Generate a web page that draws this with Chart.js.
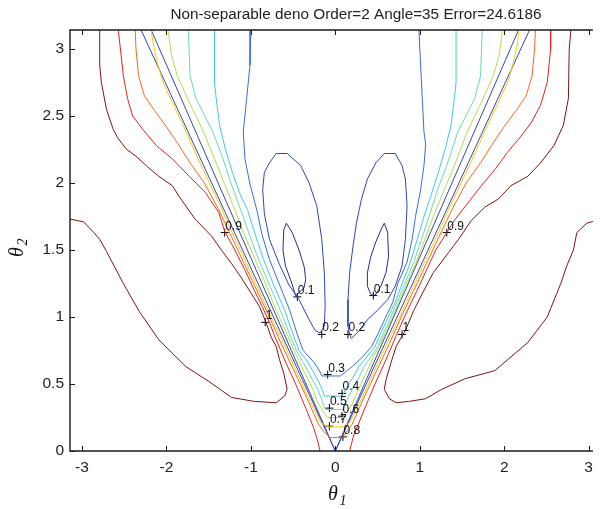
<!DOCTYPE html>
<html>
<head>
<meta charset="utf-8">
<script src="https://cdn.jsdelivr.net/npm/chart.js@4.4.1/dist/chart.umd.min.js"></script>
<style>
  html, body { margin: 0; padding: 0; background: #fff; overflow: hidden; }
</style>
</head>
<body>
<canvas id="contourChart" width="600" height="509"></canvas>
<script>
// title + axis ticks
const chartTitle = 'Non-separable deno Order=2 Angle=35 Error=24.6186';
const xTicks = [-3, -2, -1, 0, 1, 2, 3];
const yTicks = [0, 0.5, 1, 1.5, 2, 2.5, 3];

// contour lines, [theta1, theta2]
const lvl10Left = [[-3.14,1.73],[-2.98,1.71],[-2.86,1.63],[-2.79,1.58],[-2.71,1.49],[-2.51,1.25],[-2.32,1.04],[-2.09,0.83],[-1.77,0.63],[-1.50,0.52],[-1.23,0.40],[-0.96,0.37],[-0.70,0.36],[-0.60,0.41],[-0.57,0.46],[-0.61,0.58],[-0.66,0.68],[-0.70,0.78],[-0.76,0.85],[-0.82,0.96],[-0.90,1.08],[-1.00,1.18],[-1.11,1.29],[-1.23,1.40],[-1.35,1.50],[-1.46,1.60],[-1.66,1.73],[-1.85,1.90],[-1.93,1.98],[-2.09,2.05],[-2.24,2.13],[-2.36,2.20],[-2.47,2.25],[-2.57,2.33],[-2.63,2.40],[-2.71,2.55],[-2.77,2.75],[-2.79,2.88],[-2.79,3.1416]];
const lvl10Right = [[2.79,3.1416],[2.77,3.00],[2.76,2.63],[2.70,2.43],[2.59,2.28],[2.43,2.15],[2.28,2.05],[2.08,1.98],[1.93,1.88],[1.77,1.82],[1.61,1.72],[1.46,1.58],[1.34,1.48],[1.16,1.33],[1.05,1.20],[0.93,1.05],[0.83,0.90],[0.72,0.78],[0.66,0.66],[0.60,0.53],[0.58,0.46],[0.64,0.39],[0.72,0.36],[0.87,0.37],[1.07,0.39],[1.26,0.46],[1.54,0.54],[1.89,0.60],[2.28,0.81],[2.51,1.00],[2.67,1.25],[2.74,1.38],[2.82,1.50],[2.86,1.63],[2.98,1.70],[3.14,1.73]];
const lvl09Left = [[-2.57,3.1416],[-2.55,3.03],[-2.51,2.80],[-2.46,2.63],[-2.40,2.50],[-2.28,2.40],[-2.12,2.28],[-1.93,2.18],[-1.73,2.05],[-1.54,1.93],[-1.38,1.78],[-1.31,1.64],[-1.19,1.50],[-1.07,1.35],[-0.96,1.20],[-0.86,1.07],[-0.78,0.96],[-0.72,0.86],[-0.60,0.68],[-0.47,0.50],[-0.35,0.32],[-0.26,0.18],[-0.22,0.10],[-0.18,0]];
const lvl09Right = [[2.55,3.1416],[2.55,3.00],[2.51,2.75],[2.43,2.58],[2.32,2.45],[2.20,2.35],[2.04,2.23],[1.89,2.10],[1.73,1.98],[1.57,1.85],[1.42,1.73],[1.32,1.63],[1.19,1.50],[1.08,1.35],[0.97,1.20],[0.84,1.03],[0.72,0.86],[0.60,0.68],[0.47,0.50],[0.35,0.32],[0.26,0.18],[0.21,0.10],[0.17,0]];
const lvl08 = [[-2.37,3.1416],[-2.36,3.00],[-2.33,2.80],[-2.26,2.65],[-2.14,2.54],[-2.00,2.42],[-1.85,2.28],[-1.72,2.15],[-1.55,2.00],[-1.38,1.80],[-1.23,1.60],[-1.08,1.40],[-0.93,1.20],[-0.78,1.00],[-0.64,0.80],[-0.49,0.60],[-0.34,0.40],[-0.20,0.20],[-0.13,0.14],[-0.06,0.10],[0.08,0.10],[0.13,0.14],[0.20,0.20],[0.34,0.40],[0.49,0.60],[0.64,0.80],[0.78,1.00],[0.93,1.20],[1.08,1.40],[1.23,1.60],[1.38,1.80],[1.55,2.00],[1.72,2.15],[1.85,2.28],[2.00,2.42],[2.14,2.54],[2.26,2.65],[2.33,2.80],[2.36,3.00],[2.37,3.1416]];
const lvl07 = [[-2.18,3.1416],[-2.16,3.05],[-2.11,2.90],[-2.04,2.75],[-1.93,2.60],[-1.78,2.40],[-1.64,2.20],[-1.49,2.00],[-1.34,1.80],[-1.20,1.60],[-1.05,1.40],[-0.905,1.20],[-0.76,1.00],[-0.61,0.80],[-0.465,0.60],[-0.32,0.40],[-0.17,0.21],[-0.08,0.18],[0.08,0.18],[0.17,0.21],[0.32,0.40],[0.465,0.60],[0.61,0.80],[0.76,1.00],[0.905,1.20],[1.05,1.40],[1.20,1.60],[1.34,1.80],[1.49,2.00],[1.64,2.20],[1.78,2.40],[1.93,2.60],[2.04,2.75],[2.11,2.90],[2.16,3.05],[2.17,3.1416]];
const lvl06 = [[-1.98,3.1416],[-1.94,2.95],[-1.87,2.80],[-1.75,2.63],[-1.56,2.38],[-1.43,2.18],[-1.31,1.99],[-1.19,1.80],[-1.08,1.62],[-0.95,1.43],[-0.82,1.24],[-0.70,1.05],[-0.57,0.87],[-0.49,0.75],[-0.42,0.66],[-0.37,0.59],[-0.31,0.52],[-0.26,0.45],[-0.22,0.38],[-0.16,0.31],[-0.13,0.28],[-0.09,0.25],[0.09,0.25],[0.13,0.28],[0.16,0.31],[0.20,0.35],[0.24,0.41],[0.29,0.48],[0.34,0.55],[0.40,0.63],[0.45,0.70],[0.52,0.78],[0.59,0.88],[0.67,0.99],[0.75,1.11],[0.835,1.23],[0.96,1.41],[1.06,1.58],[1.16,1.75],[1.29,1.95],[1.41,2.13],[1.56,2.38],[1.75,2.63],[1.87,2.80],[1.94,2.95],[1.98,3.1416]];
const lvl05 = [[-1.74,3.1416],[-1.72,2.80],[-1.65,2.63],[-1.45,2.38],[-1.33,2.18],[-1.23,1.99],[-1.12,1.80],[-1.02,1.62],[-0.91,1.43],[-0.78,1.24],[-0.65,1.05],[-0.54,0.87],[-0.46,0.75],[-0.38,0.66],[-0.32,0.59],[-0.26,0.52],[-0.20,0.45],[-0.16,0.38],[-0.12,0.31],[0.10,0.31],[0.12,0.35],[0.16,0.41],[0.22,0.48],[0.28,0.55],[0.34,0.63],[0.42,0.70],[0.50,0.78],[0.57,0.88],[0.65,0.99],[0.73,1.11],[0.81,1.23],[0.93,1.41],[1.02,1.58],[1.11,1.75],[1.21,1.95],[1.32,2.13],[1.45,2.38],[1.65,2.63],[1.72,2.80],[1.74,3.1416]];
const lvl04 = [[-1.43,3.1416],[-1.43,2.75],[-1.41,2.63],[-1.37,2.43],[-1.30,2.25],[-1.22,2.08],[-1.13,1.92],[-1.04,1.80],[-0.95,1.62],[-0.85,1.43],[-0.73,1.24],[-0.60,1.05],[-0.50,0.87],[-0.43,0.75],[-0.32,0.66],[-0.26,0.59],[-0.20,0.52],[-0.15,0.45],[-0.13,0.41],[0.08,0.41],[0.14,0.48],[0.21,0.55],[0.28,0.63],[0.37,0.70],[0.47,0.78],[0.54,0.88],[0.62,0.99],[0.71,1.11],[0.78,1.23],[0.89,1.41],[0.97,1.58],[1.05,1.75],[1.13,1.90],[1.22,2.08],[1.30,2.25],[1.37,2.43],[1.41,2.63],[1.43,2.75],[1.43,3.1416]];
const lvl03 = [[-1.00,3.1416],[-1.01,2.88],[-1.05,2.63],[-1.09,2.38],[-1.07,2.18],[-1.01,1.99],[-0.93,1.80],[-0.87,1.62],[-0.78,1.43],[-0.66,1.24],[-0.54,1.05],[-0.45,0.87],[-0.38,0.75],[-0.25,0.66],[-0.18,0.59],[-0.16,0.56],[0.06,0.56],[0.08,0.57],[0.20,0.63],[0.32,0.70],[0.43,0.78],[0.51,0.88],[0.59,0.99],[0.68,1.11],[0.74,1.25],[0.85,1.41],[0.91,1.58],[0.95,1.75],[1.01,1.95],[1.05,2.13],[1.07,2.29],[1.05,2.38],[1.03,2.63],[1.01,2.88],[0.99,3.1416]];
const lvl02Left = [[-0.18,0.88],[-0.13,0.93],[-0.12,1.08],[-0.13,1.33],[-0.16,1.58],[-0.22,1.83],[-0.31,2.00],[-0.41,2.13],[-0.57,2.22],[-0.70,2.22],[-0.78,2.15],[-0.84,2.08],[-0.86,1.95],[-0.84,1.77],[-0.78,1.58],[-0.66,1.39],[-0.55,1.24],[-0.43,1.13],[-0.31,0.98],[-0.24,0.90],[-0.18,0.88]];
const lvl02Right = [[0.19,0.84],[0.29,0.90],[0.38,0.98],[0.50,1.05],[0.62,1.13],[0.71,1.23],[0.79,1.38],[0.83,1.58],[0.85,1.83],[0.83,2.03],[0.79,2.13],[0.71,2.22],[0.58,2.22],[0.48,2.15],[0.38,2.03],[0.31,1.88],[0.25,1.70],[0.21,1.53],[0.17,1.33],[0.15,1.13],[0.15,0.93],[0.17,0.87],[0.19,0.84]];
const lvl01Left = [[-0.58,1.70],[-0.51,1.63],[-0.43,1.50],[-0.37,1.38],[-0.35,1.28],[-0.37,1.22],[-0.43,1.18],[-0.47,1.16],[-0.53,1.28],[-0.59,1.38],[-0.62,1.50],[-0.61,1.65],[-0.58,1.70]];
const lvl01Right = [[0.58,1.70],[0.62,1.63],[0.63,1.45],[0.60,1.33],[0.54,1.23],[0.48,1.17],[0.45,1.16],[0.42,1.17],[0.38,1.23],[0.38,1.33],[0.42,1.45],[0.48,1.56],[0.54,1.65],[0.58,1.70]];
// the two blue lines of the V (where the denominator vanishes)
const vOuterLeft = [[0,0],[-2.30,3.1416]];
const vInnerLeft = [[0,0],[-2.18,3.1416]];
const vOuterRight = [[0,0],[2.30,3.1416]];
const vInnerRight = [[0,0],[2.17,3.1416]];

// clabel marks
const labelText = ['0.9', '0.9', '0.1', '0.1', '0.2', '0.2', '1', '1', '0.3', '0.4', '0.5', '0.6', '0.7', '0.8'];
const labelX = [-1.31, 1.32, -0.45, 0.45, -0.16, 0.15, -0.83, 0.79, -0.09, 0.08, -0.07, 0.08, -0.07, 0.09];
const labelY = [1.63, 1.63, 1.15, 1.16, 0.87, 0.87, 0.96, 0.87, 0.57, 0.43, 0.32, 0.26, 0.185, 0.105];

// jet colours per level
const levelColors = {
    'V':   '#3447b2',
    '0.1': '#2a2a92',
    '0.2': '#2c44c2',
    '0.3': '#3c6cd8',
    '0.4': '#3cc8e8',
    '0.5': '#66dab4',
    '0.6': '#b2dc4e',
    '0.7': '#f4cd0c',
    '0.8': '#f26a22',
    '0.9': '#e2231e',
    '1':   '#7e1414'
};

const contourPieces = [
    ['1', lvl10Left], ['1', lvl10Right],
    ['0.9', lvl09Left], ['0.9', lvl09Right],
    ['0.8', lvl08], ['0.7', lvl07], ['0.6', lvl06], ['0.5', lvl05], ['0.4', lvl04], ['0.3', lvl03],
    ['0.2', lvl02Left], ['0.2', lvl02Right],
    ['0.1', lvl01Left], ['0.1', lvl01Right],
    ['V', vOuterLeft], ['V', vInnerLeft], ['V', vOuterRight], ['V', vInnerRight]
];

const datasets = contourPieces.map(([lvl, pts]) => ({
    data: pts.map(p => ({ x: p[0], y: p[1] })),
    showLine: true,
    borderColor: levelColors[lvl],
    borderWidth: 1,
    pointRadius: 0,
    tension: 0
}));

datasets.push({
    data: labelX.map((v, i) => ({ x: v, y: labelY[i] })),
    showLine: false,
    pointStyle: 'cross',
    pointRadius: 4,
    borderColor: '#000',
    borderWidth: 1
});

const sansFont = '"Liberation Sans", Arial, Helvetica, sans-serif';
const serifFont = '"Liberation Serif", "Times New Roman", serif';

// matlab-ish frame: inward ticks, title, greek axis labels, clabel text
const matlabFrame = {
    id: 'matlabFrame',
    afterDatasetsDraw(chart) {
        const { ctx, scales: { x, y } } = chart;
        ctx.save();
        ctx.fillStyle = '#111';
        ctx.font = '12px ' + sansFont;
        ctx.textAlign = 'left';
        ctx.textBaseline = 'alphabetic';
        labelText.forEach((t, i) => {
            ctx.fillText(t, x.getPixelForValue(labelX[i]) + 0.5, y.getPixelForValue(labelY[i]) - 3);
        });
        ctx.restore();
    },
    afterDraw(chart) {
        const { ctx, chartArea: a, scales: { x, y } } = chart;
        ctx.save();
        ctx.strokeStyle = '#1a1a1a';
        ctx.lineWidth = 1.4;
        ctx.beginPath();
        ctx.moveTo(a.right, a.top);
        ctx.lineTo(a.left, a.top);
        ctx.lineTo(a.left, a.bottom);
        ctx.lineTo(a.right, a.bottom);
        ctx.stroke();

        ctx.lineWidth = 1;
        ctx.beginPath();
        xTicks.forEach(v => {
            const px = Math.round(x.getPixelForValue(v)) + 0.5;
            ctx.moveTo(px, a.bottom); ctx.lineTo(px, a.bottom - 5);
            ctx.moveTo(px, a.top); ctx.lineTo(px, a.top + 5);
        });
        yTicks.forEach(v => {
            const py = Math.round(y.getPixelForValue(v)) + 0.5;
            ctx.moveTo(a.left, py); ctx.lineTo(a.left + 5, py);
        });
        ctx.stroke();

        ctx.fillStyle = '#222';
        ctx.font = '15.3px ' + sansFont;
        ctx.textAlign = 'center';
        ctx.textBaseline = 'middle';
        ctx.fillText(chartTitle, 356, 15);

        // theta_1 under the x axis
        ctx.fillStyle = '#111';
        ctx.font = 'italic 20px ' + serifFont;
        ctx.fillText('θ', 333, 495);
        ctx.font = 'italic 14px ' + serifFont;
        ctx.fillText('1', 343, 501);

        // theta_2 left of the y axis
        ctx.translate(18, 252);
        ctx.rotate(-Math.PI / 2);
        ctx.font = 'italic 20px ' + serifFont;
        ctx.fillText('θ', 0, 0);
        ctx.font = 'italic 14px ' + serifFont;
        ctx.fillText('2', 10, 5);
        ctx.restore();
    }
};

const contourChart = new Chart(document.getElementById('contourChart').getContext('2d'), {
    type: 'scatter',
    data: { datasets: datasets },
    options: {
        responsive: false,
        animation: false,
        devicePixelRatio: 1,
        layout: { padding: { top: 30, right: 0, left: 0, bottom: 0 } },
        plugins: {
            legend: { display: false },
            tooltip: { enabled: false }
        },
        scales: {
            x: {
                type: 'linear',
                min: -Math.PI,
                max: 3.05,
                afterBuildTicks: s => { s.ticks = xTicks.map(v => ({ value: v })); },
                afterFit: s => { s.height = 58; },
                ticks: {
                    callback: v => String(v),
                    font: { family: sansFont, size: 15.5 },
                    color: '#222',
                    padding: 7,
                    maxRotation: 0,
                    autoSkip: false
                },
                grid: { display: false, drawTicks: false },
                border: { display: false }
            },
            y: {
                type: 'linear',
                min: 0,
                max: Math.PI,
                afterBuildTicks: s => { s.ticks = yTicks.map(v => ({ value: v })); },
                afterFit: s => { s.width = 70; },
                ticks: {
                    callback: v => String(v),
                    font: { family: sansFont, size: 15.5 },
                    color: '#222',
                    padding: 6,
                    autoSkip: false
                },
                grid: { display: false, drawTicks: false },
                border: { display: false }
            }
        }
    },
    plugins: [matlabFrame]
});
</script>
</body>
</html>
